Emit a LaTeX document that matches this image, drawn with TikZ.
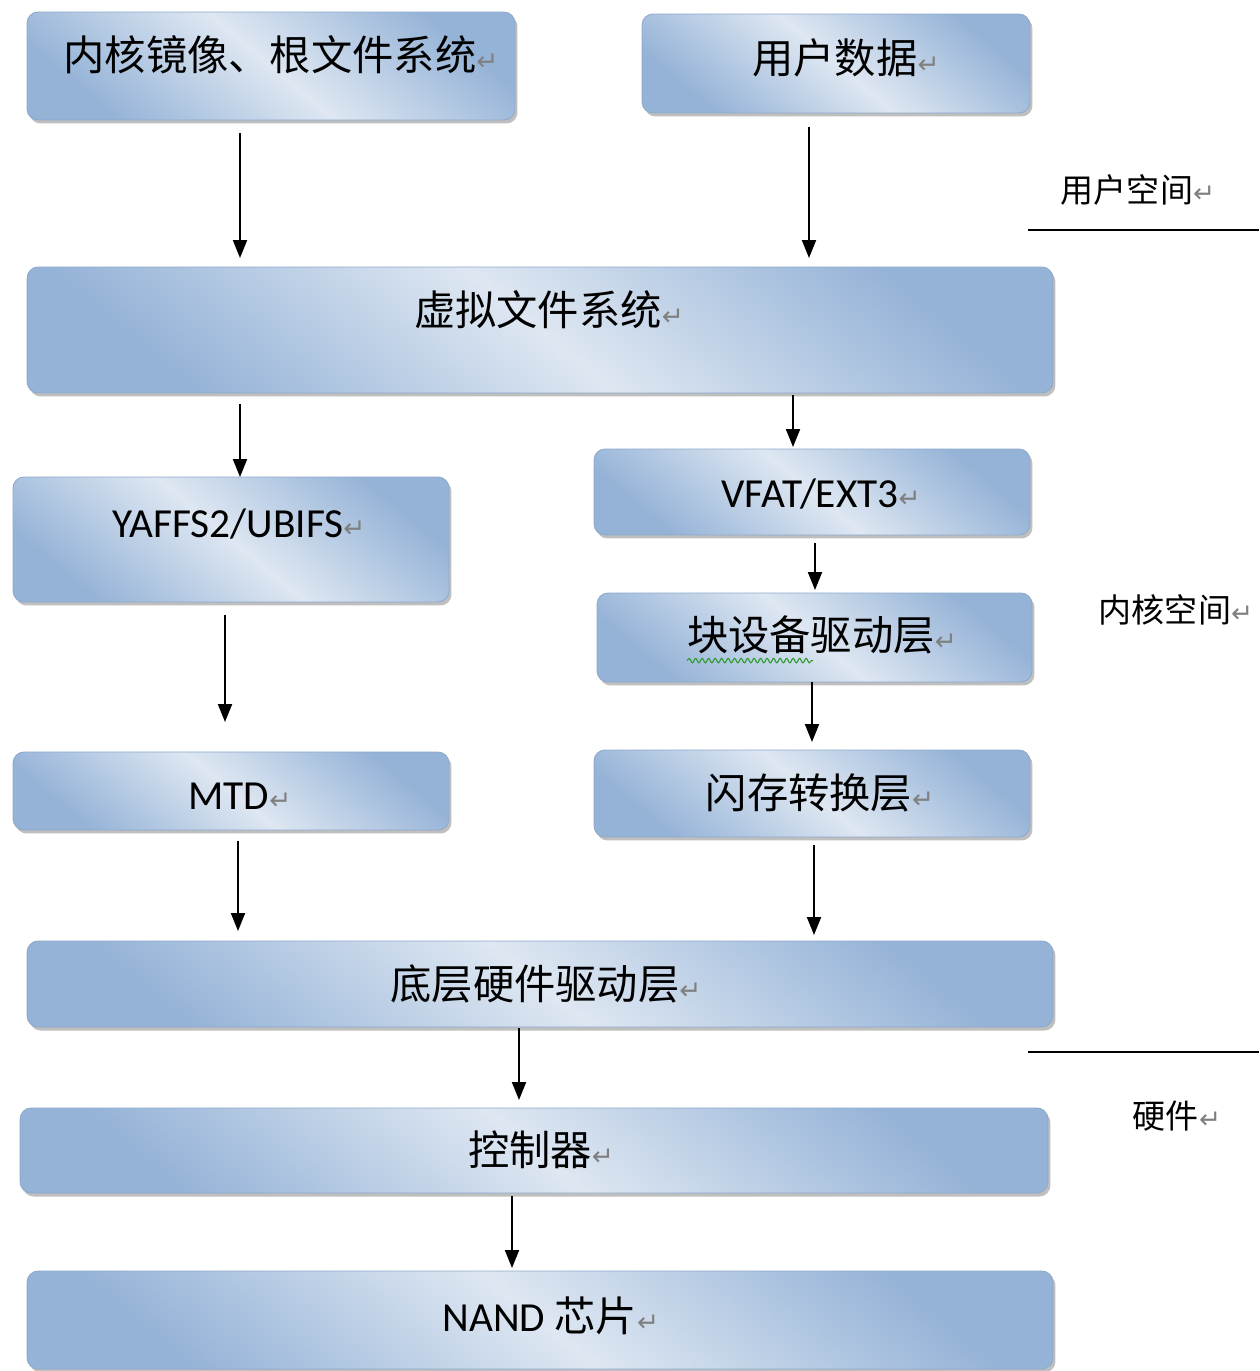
\documentclass[tikz,border=0pt]{standalone}
\usepackage{fontspec}
\setmainfont{Carlito}
\newfontfamily\cjk{Noto Sans CJK SC}
\newfontfamily\dejavu{DejaVu Sans}
\usetikzlibrary{shadows,arrows.meta,decorations.pathmorphing}
\definecolor{bdark}{HTML}{95B3D7}
\definecolor{blight}{HTML}{DEE7F2}
\definecolor{bedge}{HTML}{8EA9CC}
\definecolor{retgray}{HTML}{808080}
\definecolor{squig}{HTML}{2E9A2E}
\newcommand\retmark{{\color{retgray}\dejavu\fontsize{15pt}{15pt}\selectfont ↵}}
\begin{document}
\begin{tikzpicture}[x=0.02cm,y=-0.02cm,
  box/.style={rounded corners=0.22cm, inner sep=0pt, outer sep=0pt,
    top color=bdark, bottom color=bdark, middle color=blight, shading angle=-40,
    draw=bedge, line width=0.5pt,
    drop shadow={shadow xshift=0.05cm, shadow yshift=-0.07cm, opacity=0.45, fill=black!55}},
  txt/.style={inner sep=0pt, outer sep=0pt, text height=15.5pt, text depth=0pt,
    font=\fontsize{23.5pt}{26pt}\selectfont},
  side/.style={inner sep=0pt, outer sep=0pt, text height=12.4pt, text depth=0pt,
    font=\cjk\fontsize{18.8pt}{21pt}\selectfont},
  arr/.style={line width=0.04cm, -{Triangle[length=0.36cm,width=0.28cm]}},
  sep/.style={line width=0.04cm}]
\useasboundingbox (0,0) rectangle (1259,1371);
\fill[white] (0,0) rectangle (1259,1371);

% boxes
\node[box, minimum width=9.76cm,  minimum height=2.16cm] (b1)  at (271,66)    {};
\node[box, minimum width=7.76cm,  minimum height=1.98cm] (b2)  at (836,63.5)  {};
\node[box, minimum width=20.52cm, minimum height=2.52cm] (b3)  at (540,330)   {};
\node[box, minimum width=8.72cm,  minimum height=2.50cm] (b4)  at (231,539.5) {};
\node[box, minimum width=8.72cm,  minimum height=1.72cm] (b5)  at (812,492)   {};
\node[box, minimum width=8.70cm,  minimum height=1.78cm] (b6)  at (814.5,637.5) {};
\node[box, minimum width=8.72cm,  minimum height=1.56cm] (b7)  at (231,791)   {};
\node[box, minimum width=8.72cm,  minimum height=1.74cm] (b8)  at (812,793.5) {};
\node[box, minimum width=20.52cm, minimum height=1.72cm] (b9)  at (540,984)   {};
\node[box, minimum width=20.56cm, minimum height=1.70cm] (b10) at (534,1150.5) {};
\node[box, minimum width=20.52cm, minimum height=1.96cm] (b11) at (540,1320)  {};

% texts
\node[txt] (t1)  at (281,57)   {\cjk 内核镜像、根文件系统\retmark};
\node[txt] (t2)  at (846,60)   {\cjk 用户数据\retmark};
\node[txt] (t3)  at (549,312)  {\cjk 虚拟文件系统\retmark};
\node[txt] (t4)  at (239,524)  {YAFFS2/UBIFS\retmark};
\node[txt] (t5)  at (821,494)  {VFAT/EXT3\retmark};
\node[txt] (t6)  at (822,637)  {\cjk 块设备驱动层\retmark};
\node[txt] (t7)  at (240,796)  {MTD\retmark};
\node[txt] (t8)  at (820,795)  {\cjk 闪存转换层\retmark};
\node[txt] (t9)  at (546,986)  {\cjk 底层硬件驱动层\retmark};
\node[txt] (t10) at (541,1152) {\cjk 控制器\retmark};
\node[txt] (t11) at (551,1318) {NAND {\cjk 芯片}\retmark};

% spell-check squiggle
\draw[squig, line width=0.6pt, decorate, decoration={snake, amplitude=0.045cm, segment length=0.13cm}]
  ([yshift=-0.2cm]t6.south west) -- ++(126,0);

% side labels
\node[side] (s1) at (1138,192)  {用户空间\retmark};
\node[side] (s2) at (1176,612)  {内核空间\retmark};
\node[side] (s3) at (1177,1118) {硬件\retmark};
\coordinate (l1a) at (1028,230);
\coordinate (l1b) at (1259,230);
\coordinate (l2a) at (1028,1052);
\coordinate (l2b) at (1259,1052);
\draw[sep] (l1a) -- (l1b);
\draw[sep] (l2a) -- (l2b);

% arrows
\draw[arr, shorten <=0.26cm, shorten >=0.18cm] (b1.south -| 240,0) -- (b3.north -| 240,0);
\draw[arr, shorten <=0.28cm, shorten >=0.18cm] (b2.south -| 809,0) -- (b3.north -| 809,0);
\draw[arr, shorten <=0.22cm, shorten >=0cm]    (b3.south -| 240,0) -- (b4.north -| 240,0);
\draw[arr, shorten <=0.04cm, shorten >=0.04cm] (b3.south -| 793,0) -- (b5.north -| 793,0);
\draw[arr, shorten <=0.16cm, shorten >=0.06cm] (b5.south -| 815,0) -- (b6.north -| 815,0);
\draw[arr, shorten <=0cm,    shorten >=0.16cm] (b6.south -| 812,0) -- (b8.north -| 812,0);
\draw[arr, shorten <=0.26cm, shorten >=0.60cm] (b4.south -| 225,0) -- (b7.north -| 225,0);
\draw[arr, shorten <=0.22cm, shorten >=0.20cm] (b7.south -| 238,0) -- (b9.north -| 238,0);
\draw[arr, shorten <=0.16cm, shorten >=0.12cm] (b8.south -| 814,0) -- (b9.north -| 814,0);
\draw[arr, shorten <=0.02cm, shorten >=0.16cm] (b9.south -| 519,0) -- (b10.north -| 519,0);
\draw[arr, shorten <=0.06cm, shorten >=0.06cm] (b10.south -| 512,0) -- (b11.north -| 512,0);
\end{tikzpicture}
\end{document}
